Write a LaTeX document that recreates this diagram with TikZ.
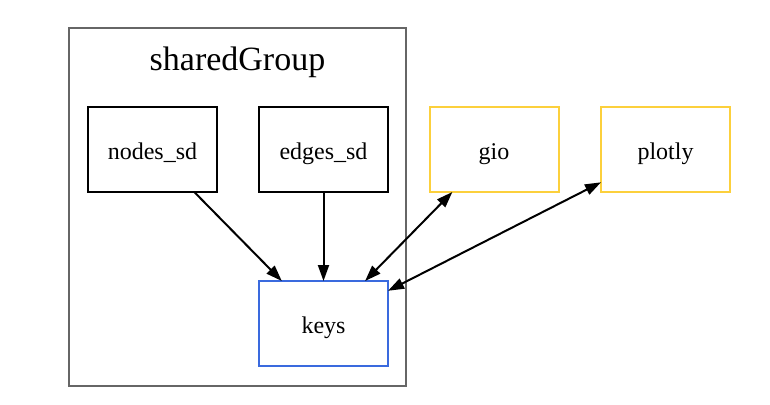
\documentclass[tikz,border=0pt]{standalone}
\usepackage{fontspec}
\setmainfont{Liberation Serif}
\usetikzlibrary{arrows.meta}
\definecolor{clgray}{RGB}{102,102,102}
\definecolor{pyyellow}{RGB}{252,208,60}
\definecolor{keyblue}{RGB}{58,106,222}
\begin{document}
\begin{tikzpicture}[x=1pt,y=-1pt,
  box/.style={draw,line width=2pt,minimum width=129pt,minimum height=85pt,inner sep=0pt,outer sep=0pt,text height=21pt,text depth=0.6pt,font=\fontsize{24}{28}\selectfont},
  tip/.style={Triangle[length=16pt,width=11pt]},
  edge/.style={line width=2pt,-{Triangle[length=16pt,width=11pt]}},
  bedge/.style={line width=2pt,{Triangle[length=16pt,width=11pt]}-{Triangle[length=16pt,width=11pt]}}]
\useasboundingbox (0,0) rectangle (770,404);
\node[draw=clgray,line width=2pt,minimum width=337pt,minimum height=358pt,inner sep=0pt] (cluster) at (237.5,207) {};
\node[font=\fontsize{34}{40}\selectfont] (title) at (237.5,62) {sharedGroup};
\node[box] (nodes) at (152.5,149.5) {nodes\_sd};
\node[box] (edges) at (323.5,149.5) {edges\_sd};
\node[box,draw=pyyellow] (gio) at (494,149.5) {gio};
\node[box,draw=pyyellow] (plotly) at (665.5,149.5) {plotly};
\node[box,draw=keyblue] (keys) at (323.5,323.5) {keys};
\draw[edge] (nodes) -- (keys);
\draw[edge] (edges) -- (keys);
\draw[bedge] (gio) -- (keys);
\draw[bedge] (plotly) -- (keys);
\end{tikzpicture}
\end{document}
